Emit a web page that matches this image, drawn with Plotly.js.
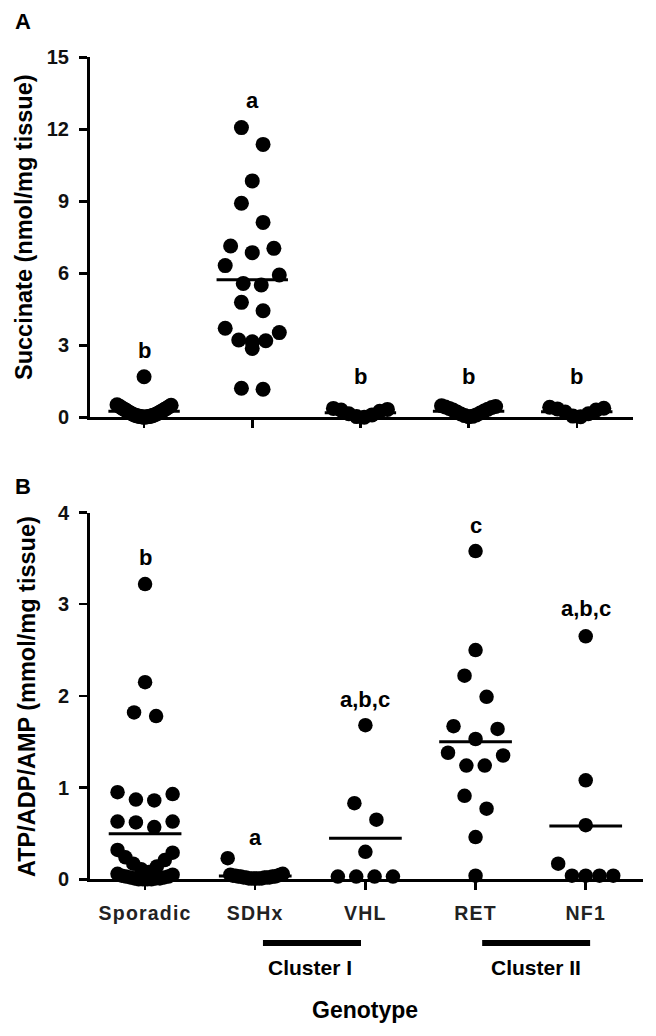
<!DOCTYPE html>
<html>
<head>
<meta charset="utf-8">
<script src="https://cdn.plot.ly/plotly-3.0.1.min.js"></script>
<style>
  html, body { margin: 0; padding: 0; background: #fff; }
  #chart { width: 656px; height: 1036px; }
  .x2tick text { letter-spacing: 1.2px; }
</style>
</head>
<body>
<div id="chart"></div>
<script>
// ---------------- data ----------------
const categories = ['Sporadic', 'SDHx', 'VHL', 'RET', 'NF1'];
const tickLabels = ['Sporadic', 'SDHx', 'VHL', 'RET', 'NF1'];

// Panel A: Succinate (nmol/mg tissue)
const succSporadic = [1.69, 0.52, 0.5, 0.47, 0.45, 0.44, 0.41, 0.38, 0.36, 0.35, 0.32, 0.3, 0.27, 0.26, 0.24, 0.21, 0.2,
  0.18, 0.16, 0.14, 0.13, 0.11, 0.1, 0.08, 0.07, 0.06, 0.05, 0.04, 0.03, 0.03, 0.02, 0.01, 0.01, 0.0];
const succSDHx = [12.07, 11.37, 9.85, 8.92, 8.12, 7.14, 7.04, 6.86, 6.32, 5.93, 5.58, 5.51, 4.79, 4.44, 3.71, 3.53,
  3.22, 3.19, 3.15, 2.87, 1.21, 1.17];
const succVHL = [0.37, 0.33, 0.3, 0.25, 0.15, 0.1, 0.03, 0.0];
const succRET = [0.48, 0.45, 0.43, 0.41, 0.37, 0.34, 0.3, 0.26, 0.22, 0.18, 0.14, 0.1, 0.07, 0.04, 0.02];
const succNF1 = [0.42, 0.38, 0.35, 0.3, 0.22, 0.15, 0.05, 0.02];

// Panel B: ATP/ADP/AMP (mmol/mg tissue)
const atpSporadic = [3.22, 2.15, 1.82, 1.78, 0.95, 0.93, 0.87, 0.86, 0.63, 0.63, 0.62, 0.57, 0.32, 0.29, 0.24, 0.21,
  0.17, 0.14, 0.11, 0.08, 0.06, 0.05, 0.04, 0.03, 0.03, 0.02, 0.02, 0.01, 0.01, 0.01, 0.0, 0.0, 0.0, 0.0];
const atpSDHx = [0.23, 0.06, 0.05, 0.05, 0.04, 0.04, 0.04, 0.03, 0.03, 0.03, 0.03, 0.02, 0.02, 0.02, 0.02, 0.02,
  0.01, 0.01, 0.01, 0.01, 0.01, 0.01];
const atpVHL = [1.68, 0.83, 0.65, 0.3, 0.03, 0.03, 0.03, 0.03];
const atpRET = [3.58, 2.5, 2.22, 1.99, 1.67, 1.64, 1.53, 1.38, 1.35, 1.24, 1.24, 0.91, 0.77, 0.46, 0.04];
const atpNF1 = [2.65, 1.08, 0.59, 0.17, 0.04, 0.04, 0.04, 0.04];

// significance letters
const lettersA = ['b', 'a', 'b', 'b', 'b'];
const lettersB = ['b', 'a', 'a,b,c', 'c', 'a,b,c'];

const groupsA = [succSporadic, succSDHx, succVHL, succRET, succNF1];
const groupsB = [atpSporadic, atpSDHx, atpVHL, atpRET, atpNF1];

// ---------------- layout helpers ----------------
const W = 656, H = 1036, ML = 90, MR = 13;
const PW = W - ML - MR;
const px2x = p => (p - ML) / PW;
const px2y = p => 1 - p / H;

// Prism-like scatter: group close values into rows, spread each row centre-out
function swarm(values, center, rowH, step, maxW) {
  const sorted = values.slice().sort((a, b) => b - a);
  const rows = [];
  let cur = null;
  for (const v of sorted) {
    if (!cur || cur.start - v > rowH + 1e-9) { cur = { start: v, vals: [] }; rows.push(cur); }
    cur.vals.push(v);
  }
  const xs = [], ys = [];
  for (const r of rows) {
    const vals = r.vals.slice().sort((a, b) => a - b);
    const n = vals.length;
    const sp = n > 1 ? Math.min(step, maxW / (n - 1)) : 0;
    vals.forEach((v, i) => {
      let k;
      if (n % 2 === 1) {
        k = i === 0 ? 0 : (i % 2 === 1 ? (i + 1) / 2 : -(i / 2));
      } else {
        const m = Math.floor(i / 2) + 0.5;
        k = i % 2 === 0 ? m : -m;
      }
      xs.push(center + k * sp);
      ys.push(v);
    });
  }
  return { xs, ys };
}

function buildPoints(groups, rowH) {
  let X = [], Y = [];
  groups.forEach((g, i) => {
    const s = swarm(g, i, rowH, 0.2, 0.5);
    X = X.concat(s.xs); Y = Y.concat(s.ys);
  });
  return { X, Y };
}

function meanLines(groups) {
  const X = [], Y = [];
  groups.forEach((g, i) => {
    const m = g.reduce((a, b) => a + b, 0) / g.length;
    X.push(i - 0.33, i + 0.33, null);
    Y.push(m, m, null);
  });
  return { X, Y };
}

const pA = buildPoints(groupsA, 0.815);
const pB = buildPoints(groupsB, 0.25);
const mA = meanLines(groupsA);
const mB = meanLines(groupsB);

const traces = [
  { type: 'scatter', mode: 'markers', x: pA.X, y: pA.Y, xaxis: 'x', yaxis: 'y',
    marker: { size: 15, color: '#000', line: { width: 0 } }, cliponaxis: false, hoverinfo: 'skip' },
  { type: 'scatter', mode: 'lines', x: mA.X, y: mA.Y, xaxis: 'x', yaxis: 'y',
    line: { color: '#000', width: 3 }, cliponaxis: false, connectgaps: false, hoverinfo: 'skip' },
  { type: 'scatter', mode: 'markers', x: pB.X, y: pB.Y, xaxis: 'x2', yaxis: 'y2',
    marker: { size: 14.5, color: '#000', line: { width: 0 } }, cliponaxis: false, hoverinfo: 'skip' },
  { type: 'scatter', mode: 'lines', x: mB.X, y: mB.Y, xaxis: 'x2', yaxis: 'y2',
    line: { color: '#000', width: 3 }, cliponaxis: false, connectgaps: false, hoverinfo: 'skip' }
];

const FAM = 'Liberation Sans, Arial, Helvetica, sans-serif';
const NARROW = 'Liberation Sans Narrow, Liberation Sans, Arial, sans-serif';
const axisCommon = {
  showline: true, linecolor: '#000', linewidth: 3, showgrid: false, zeroline: false,
  ticks: 'outside', ticklen: 8, tickwidth: 2.5, tickcolor: '#000', fixedrange: true
};

const letterPosA = [2.8, 13.2, 1.69, 1.69, 1.69];
const letterPosB = [3.51, 0.46, 1.96, 3.86, 2.95];

const annotations = [];
lettersA.forEach((t, i) => annotations.push({
  xref: 'x', yref: 'y', x: i, y: letterPosA[i], text: t, showarrow: false,
  font: { family: FAM, size: 22, color: '#000', weight: 'bold' }, xanchor: 'center', yanchor: 'middle'
}));
lettersB.forEach((t, i) => annotations.push({
  xref: 'x2', yref: 'y2', x: i, y: letterPosB[i], text: t, showarrow: false,
  font: { family: FAM, size: 22, color: '#000', weight: 'bold' }, xanchor: 'center', yanchor: 'middle'
}));
// panel letters
annotations.push({ xref: 'paper', yref: 'paper', x: px2x(13), y: px2y(21), text: 'A', showarrow: false,
  xanchor: 'left', yanchor: 'middle', font: { family: FAM, size: 22, color: '#000', weight: 'bold' } });
annotations.push({ xref: 'paper', yref: 'paper', x: px2x(13), y: px2y(486), text: 'B', showarrow: false,
  xanchor: 'left', yanchor: 'middle', font: { family: FAM, size: 22, color: '#000', weight: 'bold' } });
// y axis titles
annotations.push({ xref: 'paper', yref: 'paper', x: px2x(24), y: px2y(227), text: 'Succinate (nmol/mg tissue)',
  textangle: -90, showarrow: false, xanchor: 'center', yanchor: 'middle',
  font: { family: FAM, size: 23.5, color: '#000', weight: 'bold' } });
annotations.push({ xref: 'paper', yref: 'paper', x: px2x(27), y: px2y(697), text: 'ATP/ADP/AMP (mmol/mg tissue)',
  textangle: -90, showarrow: false, xanchor: 'center', yanchor: 'middle',
  font: { family: FAM, size: 23.5, color: '#000', weight: 'bold' } });
// cluster labels
annotations.push({ xref: 'x2', yref: 'paper', x: 1.5, y: px2y(967), text: 'Cluster I', showarrow: false,
  xanchor: 'center', yanchor: 'middle', font: { family: FAM, size: 21, color: '#000', weight: 'bold' } });
annotations.push({ xref: 'x2', yref: 'paper', x: 3.55, y: px2y(967), text: 'Cluster II', showarrow: false,
  xanchor: 'center', yanchor: 'middle', font: { family: FAM, size: 21, color: '#000', weight: 'bold' } });
// x axis title
annotations.push({ xref: 'paper', yref: 'paper', x: px2x(365), y: px2y(1010), text: 'Genotype', showarrow: false,
  xanchor: 'center', yanchor: 'middle', font: { family: FAM, size: 23, color: '#000', weight: 'bold' } });

const shapes = [
  { type: 'line', xref: 'x2', yref: 'paper', x0: 1.07, x1: 1.96, y0: px2y(943), y1: px2y(943),
    line: { color: '#000', width: 6 } },
  { type: 'line', xref: 'x2', yref: 'paper', x0: 3.06, x1: 4.04, y0: px2y(943), y1: px2y(943),
    line: { color: '#000', width: 6 } }
];

const layout = {
  width: W, height: H,
  margin: { l: ML, r: MR, t: 0, b: 0 },
  paper_bgcolor: '#fff', plot_bgcolor: '#fff',
  showlegend: false,
  font: { family: FAM, color: '#000' },
  xaxis: Object.assign({}, axisCommon, {
    domain: [0, (633 - ML) / PW], range: [-0.5, 4.52], anchor: 'y',
    tickvals: [0, 1, 2, 3, 4], showticklabels: false
  }),
  yaxis: Object.assign({}, axisCommon, {
    domain: [px2y(417.3), px2y(57.3)], range: [0, 15], anchor: 'x',
    tickvals: [0, 3, 6, 9, 12, 15], ticktext: ['0', '3', '6', '9', '12', '15'],
    tickfont: { family: NARROW, size: 20, color: '#111', weight: 'bold' }, ticklabelstandoff: 6
  }),
  xaxis2: Object.assign({}, axisCommon, {
    domain: [0, 1], range: [-0.5, 4.52], anchor: 'y2',
    tickvals: [0, 1, 2, 3, 4], ticktext: tickLabels,
    tickfont: { family: FAM, size: 19.5, color: '#222', weight: 'bold' }, ticklabelstandoff: 6
  }),
  yaxis2: Object.assign({}, axisCommon, {
    domain: [px2y(879.3), px2y(512.5)], range: [0, 4], anchor: 'x2',
    tickvals: [0, 1, 2, 3, 4], ticktext: ['0', '1', '2', '3', '4'],
    tickfont: { family: NARROW, size: 20, color: '#111', weight: 'bold' }, ticklabelstandoff: 6
  }),
  annotations: annotations,
  shapes: shapes
};

Plotly.newPlot('chart', traces, layout, { staticPlot: true, displayModeBar: false });
</script>
</body>
</html>
